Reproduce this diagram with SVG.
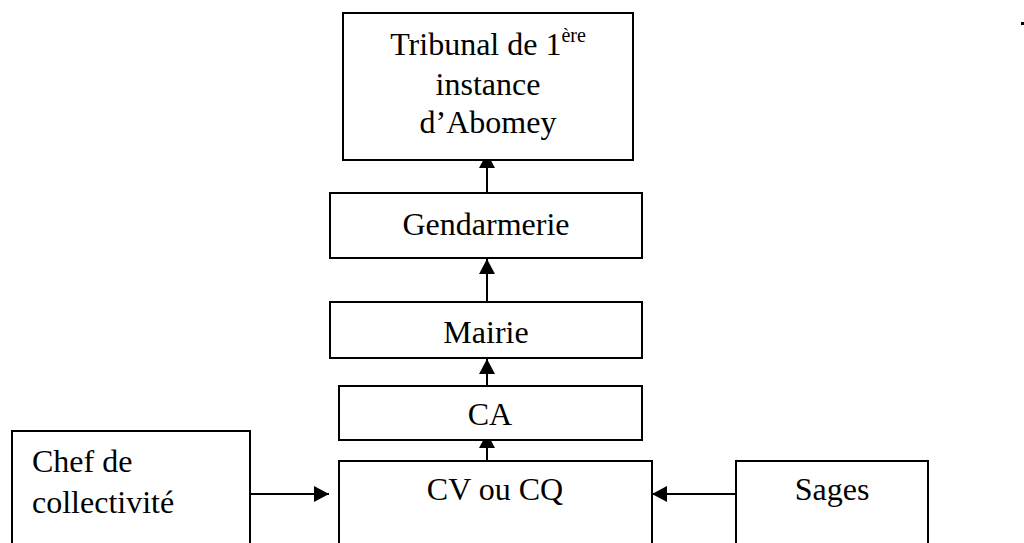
<svg xmlns="http://www.w3.org/2000/svg" width="1024" height="543" viewBox="0 0 1024 543">
<style>
.box{fill:#fff;stroke:#000;stroke-width:2}
.t{font-family:"Liberation Serif","Times New Roman",serif;font-size:32px;fill:#000}
.c{text-anchor:middle}
.e{stroke:#000;stroke-width:2;fill:none}
</style>
<defs>
<marker id="ah" markerUnits="userSpaceOnUse" markerWidth="16" markerHeight="16" viewBox="0 0 16 16" refX="15" refY="8" orient="auto">
<path d="M0,0 L15,8 L0,16 Z" fill="#000"/>
</marker>
</defs>
<rect width="1024" height="543" fill="#fff"/>
<g id="connectors">
<line class="e" x1="487" y1="193" x2="487" y2="153" marker-end="url(#ah)"/>
<line class="e" x1="487" y1="302" x2="487" y2="259" marker-end="url(#ah)"/>
<line class="e" x1="487" y1="386" x2="487" y2="359" marker-end="url(#ah)"/>
<line class="e" x1="487" y1="461" x2="487" y2="433" marker-end="url(#ah)"/>
<line class="e" x1="250" y1="494" x2="329" y2="494" marker-end="url(#ah)"/>
<line class="e" x1="736" y1="494" x2="652" y2="494" marker-end="url(#ah)"/>
</g>
<g id="tribunal">
<rect class="box" x="343" y="13" width="290" height="147"/>
<text class="t c" x="488" y="55">Tribunal de 1<tspan font-size="20" dy="-13">ère</tspan></text>
<text class="t c" x="488" y="95">instance</text>
<text class="t c" x="488" y="133">d’Abomey</text>
</g>
<g id="gendarmerie">
<rect class="box" x="330" y="193" width="312" height="65"/>
<text class="t c" x="486" y="235">Gendarmerie</text>
</g>
<g id="mairie">
<rect class="box" x="330" y="302" width="312" height="56"/>
<text class="t c" x="486" y="343">Mairie</text>
</g>
<g id="ca">
<rect class="box" x="339" y="386" width="303" height="54"/>
<text class="t c" x="490" y="425">CA</text>
</g>
<g id="cv">
<rect class="box" x="339" y="461" width="313" height="100"/>
<text class="t c" x="495" y="500">CV ou CQ</text>
</g>
<g id="chef">
<rect class="box" x="12" y="431" width="238" height="130"/>
<text class="t" x="32" y="472">Chef de</text>
<text class="t" x="32" y="513">collectivité</text>
</g>
<g id="sages">
<rect class="box" x="736" y="461" width="192" height="100"/>
<text class="t c" x="832" y="500">Sages</text>
</g>
<rect x="1021" y="22" width="3" height="3" fill="#000"/>
</svg>
